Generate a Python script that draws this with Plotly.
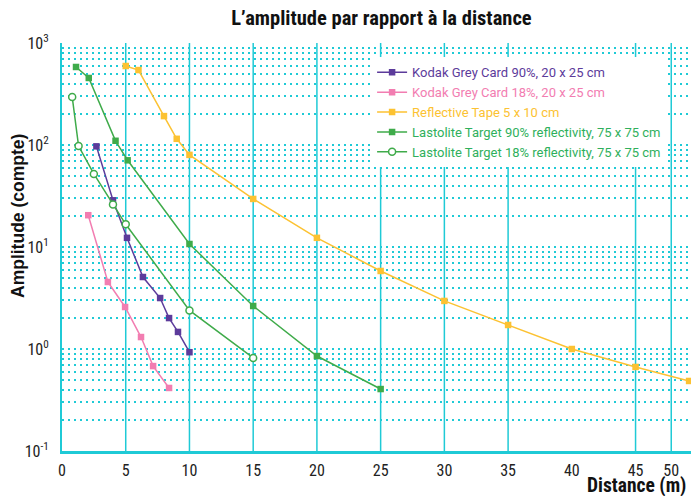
import plotly.graph_objects as go

# ---- data ----
kodak90_x = [2.7, 4.0, 5.1, 6.35, 7.7, 8.4, 9.1, 10.0]
kodak90_y = [97, 28.7, 12.3, 5.08, 3.16, 2.01, 1.47, 0.93]

kodak18_x = [2.06, 3.6, 4.95, 6.2, 7.15, 8.4]
kodak18_y = [20.5, 4.54, 2.58, 1.31, 0.68, 0.415]

tape_x = [5, 6, 8, 9, 10, 15, 20, 25, 30, 35, 40, 45, 49.2]
tape_y = [595, 543, 192, 115, 80, 29.6, 12.3, 5.82, 2.96, 1.72, 1.0, 0.667, 0.486]

last90_x = [1.1, 2.1, 4.2, 5.15, 10, 15, 20, 25]
last90_y = [582, 454, 110, 70.8, 10.7, 2.64, 0.853, 0.405]

last18_x = [0.8, 1.3, 2.5, 4.0, 5.0, 10, 15]
last18_y = [296, 97.7, 52, 26.1, 16.7, 2.39, 0.817]

x_tick_vals = [0, 5, 10, 15, 20, 25, 30, 35, 40, 45, 47.8]
x_tick_text = ["0", "5", "10", "15", "20", "25", "30", "35", "40", "45", "50"]
x_grid_vals = [5, 10, 15, 20, 25, 30, 35, 45, 47.8]

y_tick_vals = [0.1, 1, 10, 100, 1000]
y_tick_text = ["10<sup>-1</sup>", "10<sup>0</sup>", "10<sup>1</sup>", "10<sup>2</sup>", "10<sup>3</sup>"]

names = [
    "Kodak Grey Card 90%, 20 x 25 cm",
    "Kodak Grey Card 18%, 20 x 25 cm",
    "Reflective Tape 5 x 10 cm",
    "Lastolite Target 90% reflectivity, 75 x 75 cm",
    "Lastolite Target 18% reflectivity, 75 x 75 cm",
]

PURPLE = "#5c3b9b"
PINK = "#f27db1"
YELLOW = "#fcc232"
GREEN = "#3fab4a"
GREEN_TXT = "#2fb05c"
CYAN = "#1fcad6"

COND = "Roboto Condensed, Liberation Sans Narrow, Arial Narrow, Roboto, sans-serif"

fig = go.Figure()

def add(xs, ys, name, color, txtcolor, symbol, fill):
    fig.add_trace(go.Scatter(
        x=xs, y=ys, mode="lines+markers",
        name='<span style="color:%s">%s</span>' % (txtcolor, name),
        line=dict(color=color, width=1.5),
        marker=dict(symbol=symbol, size=6.5 if symbol == "square" else 7,
                    color=fill, line=dict(color=color, width=1.5 if symbol != "square" else 0)),
    ))

add(kodak90_x, kodak90_y, names[0], PURPLE, PURPLE, "square", PURPLE)
add(kodak18_x, kodak18_y, names[1], PINK, PINK, "square", PINK)
add(tape_x, tape_y, names[2], YELLOW, YELLOW, "square", YELLOW)
add(last90_x, last90_y, names[3], GREEN, GREEN_TXT, "square", GREEN)
add(last18_x, last18_y, names[4], GREEN, GREEN_TXT, "circle", "white")

shapes = [dict(type="line", xref="x", yref="paper", x0=v, x1=v, y0=0, y1=1,
               line=dict(color=CYAN, width=1.5), layer="below") for v in x_grid_vals]

fig.update_layout(
    width=691, height=496,
    margin=dict(l=62, r=0, t=43, b=45),
    paper_bgcolor="white", plot_bgcolor="white",
    title=dict(text="<b>L’amplitude par rapport à la distance</b>",
               x=0.552, xanchor="center", y=1 - 18 / 496, yanchor="middle",
               yref="container", font=dict(family=COND, size=20.5, color="#111")),
    shapes=shapes,
    showlegend=True,
    legend=dict(x=0.493, y=0.965, xanchor="left", yanchor="top",
                bgcolor="white", borderwidth=0,
                font=dict(family="Roboto, sans-serif", size=13),
                tracegroupgap=0),
    xaxis=dict(range=[0, 49.35], tickmode="array", tickvals=x_tick_vals, ticktext=x_tick_text,
               showgrid=False, zeroline=False, showline=True, linecolor=CYAN, linewidth=3,
               ticks="", ticklabelstandoff=3,
               tickfont=dict(family=COND, size=16, color="#222")),
    yaxis=dict(type="log", range=[-1, 3], tickmode="array", tickvals=y_tick_vals, ticktext=y_tick_text,
               showgrid=True, gridcolor=CYAN, gridwidth=1.8, griddash="2px,4px",
               showline=True, linecolor=CYAN, linewidth=2, ticks="", ticklabelstandoff=8,
               tickfont=dict(family=COND, size=16, color="#222"),
               minor=dict(dtick="D1", showgrid=True, gridcolor=CYAN, gridwidth=1.8, griddash="2px,4px")),
    annotations=[
        dict(text="<b>Distance (m)</b>", xref="paper", yref="paper", x=1, y=(451 - 486) / 408,
             xanchor="right", yanchor="middle", xshift=-3, showarrow=False,
             font=dict(family=COND, size=19.5, color="#111")),
        dict(text="<b>Amplitude (compte)</b>", xref="paper", yref="paper", x=(18 - 62) / 629,
             y=(451 - 216) / 408, xanchor="center", yanchor="middle", textangle=-90, showarrow=False,
             font=dict(family="Liberation Sans, Arial, sans-serif", size=17.5, color="#111")),
    ],
)

fig.write_html("out.html", config={"displayModeBar": False},
               post_script="document.body.style.margin='0';document.body.style.padding='0';")
